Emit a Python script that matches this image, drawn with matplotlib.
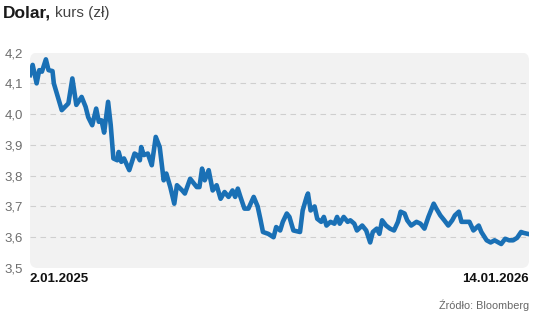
import matplotlib
matplotlib.use("Agg")
import matplotlib.pyplot as plt
from matplotlib.patches import FancyBboxPatch
import numpy as np

# Data: day offset from 2.01.2025 and USD/PLN rate
days = [0, 2, 5, 7, 9, 12, 14, 17, 18, 24, 29, 32, 35, 39, 42, 44, 47, 50, 52, 54,
        56, 59, 61, 63, 66, 67, 69, 71, 75, 79, 81, 83, 84, 86, 89, 92, 95, 98, 101, 103,
        106, 109, 111, 115, 117, 121, 126, 128, 130, 132, 135, 138, 141, 144, 147, 150, 153, 155, 157, 159,
        162, 165, 169, 172, 174, 176, 180, 184, 186, 189, 191, 194, 196, 199, 204, 206, 209, 210, 212, 215,
        217, 220, 222, 224, 227, 230, 232, 234, 237, 240, 242, 245, 247, 251, 254, 257, 259, 262, 264, 266,
        269, 272, 275, 278, 280, 283, 285, 288, 292, 295, 298, 301, 305, 307, 310, 313, 316, 319, 321, 324,
        326, 329, 332, 335, 339, 341, 345, 348, 351, 354, 356, 359, 362, 365, 368, 371, 373, 376, 377]
rate = [4.127, 4.16, 4.10, 4.143, 4.138, 4.178, 4.143, 4.14, 4.10, 4.013, 4.035, 4.116, 4.03, 4.056, 4.024, 3.99, 3.964, 4.018, 3.975, 3.98,
        3.94, 4.04, 3.964, 3.856, 3.85, 3.877, 3.845, 3.856, 3.818, 3.872, 3.867, 3.85, 3.893, 3.867, 3.872, 3.834, 3.926, 3.893, 3.785, 3.807,
        3.763, 3.709, 3.769, 3.752, 3.742, 3.79, 3.763, 3.763, 3.823, 3.785, 3.818, 3.752, 3.769, 3.725, 3.747, 3.731, 3.752, 3.731, 3.758, 3.731,
        3.693, 3.693, 3.731, 3.70, 3.66, 3.617, 3.611, 3.60, 3.633, 3.622, 3.65, 3.677, 3.666, 3.622, 3.617, 3.687, 3.731, 3.742, 3.687, 3.70,
        3.66, 3.65, 3.666, 3.638, 3.65, 3.644, 3.666, 3.644, 3.666, 3.65, 3.655, 3.644, 3.622, 3.638, 3.622, 3.583, 3.617, 3.628, 3.611, 3.655,
        3.638, 3.628, 3.622, 3.65, 3.683, 3.677, 3.655, 3.638, 3.65, 3.644, 3.628, 3.666, 3.709, 3.693, 3.671, 3.655, 3.638, 3.655, 3.671, 3.683,
        3.65, 3.65, 3.65, 3.622, 3.638, 3.617, 3.59, 3.583, 3.59, 3.583, 3.578, 3.595, 3.59, 3.59, 3.598, 3.617, 3.614, 3.611, 3.61]
yticks = [3.5, 3.6, 3.7, 3.8, 3.9, 4.0, 4.1, 4.2]
first_date = "2.01.2025"
last_date = "14.01.2026"

plt.rcParams['font.family'] = ["Liberation Sans", "DejaVu Sans"]

W, H = 536, 317
fig = plt.figure(figsize=(W / 100, H / 100), dpi=100)
ax = fig.add_axes([30 / W, 1 - 268 / H, 499 / W, (268 - 52.6) / H])
ax.set_facecolor("none")

# Rounded grey panel behind the plot
panel = FancyBboxPatch((0, 0), 1, 1, boxstyle="round,pad=0,rounding_size=0.015",
                       transform=ax.transAxes, facecolor="#f2f2f2", edgecolor="none",
                       mutation_aspect=499 / 215, zorder=0)
ax.add_patch(panel)

for y in yticks[1:-1]:
    ax.axhline(y, color="#cfcfcf", lw=0.8, ls=(0, (5, 4)), zorder=1)

ax.plot(days, rate, color="#1a70b5", lw=3.3, solid_joinstyle="round", zorder=3)

ax.set_xlim(days[0], days[-1])
ax.set_ylim(3.5, 4.2)
ax.set_yticks(yticks)
ax.set_yticklabels([f"{v:.1f}".replace(".", ",") for v in yticks], fontsize=9.5, color="#6d6d6d")
ax.tick_params(axis="y", length=0, pad=5)
ax.set_xticks([])
for s in ax.spines.values():
    s.set_visible(False)

# Title
t = fig.text(3 / W, 1 - 13 / H, "Dolar,", fontsize=12.5, fontweight="bold", color="#1a1a1a",
             va="center", ha="left")
fig.canvas.draw()
bb = t.get_window_extent()
fig.text((bb.x1 + 4) / W, 1 - 13 / H, "kurs (zł)", fontsize=11, color="#444444",
         va="center", ha="left")

# Date labels
fig.text(30 / W, 1 - 279 / H, first_date, fontsize=9.5, fontweight="bold", color="#111111",
         va="center", ha="left")
fig.text(529 / W, 1 - 279 / H, last_date, fontsize=9.5, fontweight="bold", color="#111111",
         va="center", ha="right")
fig.text(529 / W, 1 - 305 / H, "Źródło: Bloomberg", fontsize=7.8, color="#666666",
         va="center", ha="right")

fig.savefig("out.png", dpi=100)
